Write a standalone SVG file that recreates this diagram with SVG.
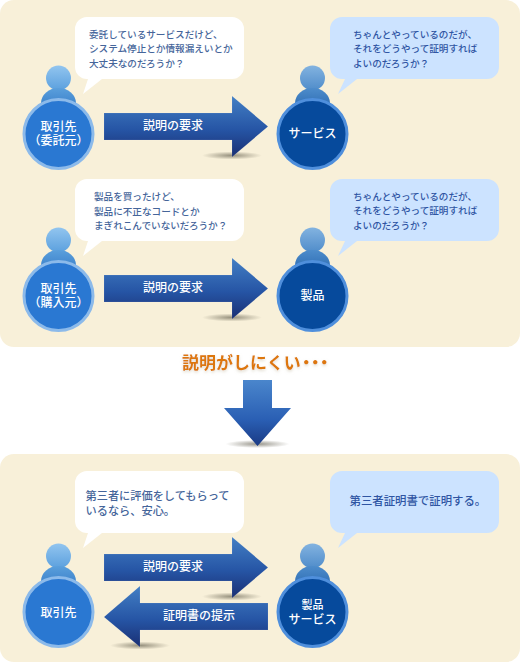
<svg xmlns="http://www.w3.org/2000/svg" width="520" height="662" viewBox="0 0 520 662">
<style>
text{font-family:"Noto Sans CJK JP","Noto Sans",sans-serif}
.q{font-size:9.6px;fill:#45659a;font-weight:500}
.q2{font-size:11.2px;fill:#45659a;font-weight:500}
.a{font-size:9.6px;fill:#2f55a3;font-weight:500}
.a2{font-size:11.4px;fill:#2f55a3;font-weight:500}
.n{font-size:12px;fill:#fff;text-anchor:middle;font-weight:500}
.l{font-size:12px;fill:#fff;text-anchor:middle;font-weight:500}
</style>
<defs>
<linearGradient id="ag" x1="0" y1="0" x2="0" y2="1"><stop offset="0" stop-color="#437fc4"/><stop offset="0.55" stop-color="#2655a5"/><stop offset="1" stop-color="#1a2f73"/></linearGradient>
<linearGradient id="dg" x1="0" y1="0" x2="0" y2="1"><stop offset="0" stop-color="#4a86cc"/><stop offset="0.6" stop-color="#2a5fb4"/><stop offset="1" stop-color="#1a3a84"/></linearGradient>
<linearGradient id="hg" x1="0" y1="0" x2="0" y2="1"><stop offset="0" stop-color="#92c5ef"/><stop offset="1" stop-color="#5ba0de"/></linearGradient>
<linearGradient id="hg2" x1="0" y1="0" x2="0" y2="1"><stop offset="0" stop-color="#83b3e0"/><stop offset="1" stop-color="#4f8cca"/></linearGradient>
<linearGradient id="bg" x1="0" y1="0" x2="0" y2="1"><stop offset="0" stop-color="#5a9fdc"/><stop offset="1" stop-color="#2a70c0"/></linearGradient>
<linearGradient id="bg2" x1="0" y1="0" x2="0" y2="1"><stop offset="0" stop-color="#4d8ccb"/><stop offset="1" stop-color="#1f5ea8"/></linearGradient>
<radialGradient id="sh"><stop offset="0" stop-color="#54503f" stop-opacity="0.6"/><stop offset="1" stop-color="#54503f" stop-opacity="0"/></radialGradient>
<filter id="glow" x="-10%" y="-30%" width="120%" height="170%"><feDropShadow dx="0" dy="1.500" stdDeviation="1.500" flood-color="#c8bfa8" flood-opacity="0.6"/></filter>
<g id="cli"><circle cx="58.5" cy="78" r="12.5" fill="url(#hg)"/><ellipse cx="58.5" cy="103" rx="17.5" ry="15" fill="url(#bg)"/><circle cx="58.5" cy="134" r="34.5" fill="#2a78d2" stroke="#8cbaea" stroke-width="3"/></g>
<g id="srv"><circle cx="312.5" cy="78" r="12.5" fill="url(#hg2)"/><ellipse cx="312.5" cy="103" rx="17.5" ry="15" fill="url(#bg2)"/><circle cx="312.5" cy="134" r="34.5" fill="#064a9c" stroke="#4f8fdc" stroke-width="3"/></g>
<path id="qb" d="M87 17H232a12 12 0 0 1 12 12V67a12 12 0 0 1-12 12H102L83 94L88 79H87a12 12 0 0 1-12-12V29a12 12 0 0 1 12-12Z" fill="#fff"/>
<path id="ab" d="M342 17H487a12 12 0 0 1 12 12V67a12 12 0 0 1-12 12H357L338 94L345 79H342a12 12 0 0 1-12-12V29a12 12 0 0 1 12-12Z" fill="#cce3ff"/>
<g id="ar"><ellipse cx="232" cy="155.500" rx="30" ry="4" fill="url(#sh)"/><path d="M104 113H232V96L268 126.500L232 157V140H104Z" fill="url(#ag)" stroke="#fff" stroke-opacity="0.2" stroke-width="0.5"/></g>
</defs>
<rect id="panel-top" x="0" y="0" width="520" height="347" rx="14" fill="#f8f0d9"/>
<rect id="panel-bottom" x="0" y="454" width="520" height="208" rx="14" fill="#f8f0d9"/>

<g id="connectors">
<use href="#ar"/>
<use href="#ar" y="162"/>
<use href="#ar" y="441"/>
<g id="back-arrow"><ellipse cx="140" cy="645.500" rx="30" ry="4" fill="url(#sh)"/><path d="M268 603H140V586L104 617L140 647V630H268Z" fill="url(#ag)" stroke="#fff" stroke-opacity="0.2" stroke-width="0.5"/></g>
<g id="down-arrow"><ellipse cx="257.500" cy="444" rx="32" ry="4" fill="url(#sh)"/><path d="M243 380H272V408H291L257.500 446L224 408H243Z" fill="url(#dg)"/></g>
<text class="l" x="173" y="130">説明の要求</text>
<text class="l" x="173" y="292">説明の要求</text>
<text class="l" x="173" y="571">説明の要求</text>
<text class="l" x="199" y="620">証明書の提示</text>
</g>

<g id="client-1"><use href="#qb"/><use href="#cli"/>
<text class="q" x="89" y="38">委託しているサービスだけど、</text>
<text class="q" x="89" y="52">システム停止とか情報漏えいとか</text>
<text class="q" x="89" y="66.500">大丈夫なのだろうか？</text>
<text class="n" x="58.500" y="130.500">取引先</text><text class="n" x="58.500" y="145">（委託元）</text></g>

<g id="service-1"><use href="#ab"/><use href="#srv"/>
<text class="a" x="353" y="38">ちゃんとやっているのだが、</text>
<text class="a" x="353" y="52">それをどうやって証明すれば</text>
<text class="a" x="353" y="66.500">よいのだろうか？</text>
<text class="n" x="312.500" y="138">サービス</text></g>

<g id="client-2"><use href="#qb" y="162"/><use href="#cli" y="162"/>
<text class="q" x="94" y="200">製品を買ったけど、</text>
<text class="q" x="94" y="214.500">製品に不正なコードとか</text>
<text class="q" x="94" y="229">まぎれこんでいないだろうか？</text>
<text class="n" x="58.500" y="292.500">取引先</text><text class="n" x="58.500" y="307">（購入元）</text></g>

<g id="product-2"><use href="#ab" y="162"/><use href="#srv" y="162"/>
<text class="a" x="353" y="200">ちゃんとやっているのだが、</text>
<text class="a" x="353" y="214">それをどうやって証明すれば</text>
<text class="a" x="353" y="228.500">よいのだろうか？</text>
<text class="n" x="312.500" y="300">製品</text></g>

<text id="mid" x="182" y="369" font-size="17" font-weight="700" fill="#dd7708" filter="url(#glow)">説明がしにくい<tspan dx="-3" letter-spacing="-8">・・・</tspan></text>

<g id="client-3"><use href="#qb" y="454"/><use href="#cli" y="478"/>
<text class="q2" x="85.500" y="499.500">第三者に評価をしてもらって</text>
<text class="q2" x="85.500" y="514.500">いるなら、安心。</text>
<text class="n" x="58.500" y="616.500">取引先</text></g>

<g id="service-3"><use href="#ab" y="454"/><use href="#srv" y="478"/>
<text class="a2" x="349.500" y="505">第三者証明書で証明する。</text>
<text class="n" x="312.500" y="608.500" style="font-size:11px">製品</text><text class="n" x="312.500" y="623.500">サービス</text></g>
</svg>
